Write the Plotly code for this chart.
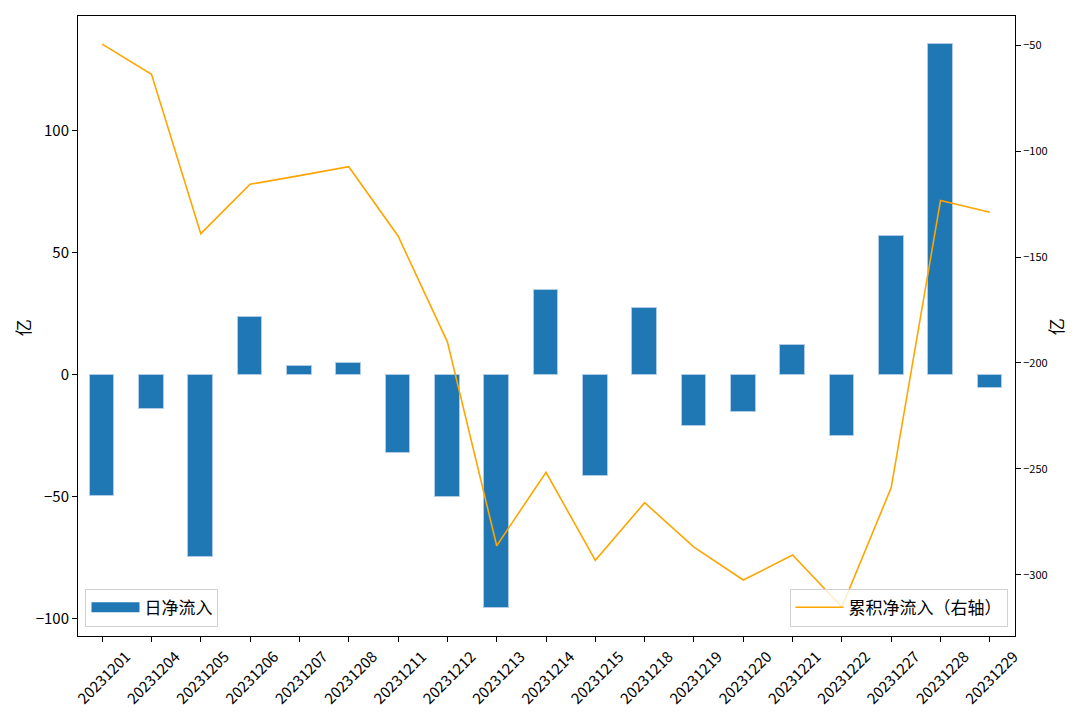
import plotly.graph_objects as go

dates = ["20231201", "20231204", "20231205", "20231206", "20231207", "20231208",
         "20231211", "20231212", "20231213", "20231214", "20231215", "20231218",
         "20231219", "20231220", "20231221", "20231222", "20231227", "20231228",
         "20231229"]
daily_flow = [-49.6, -13.9, -74.7, 23.6, 3.7, 4.8, -32.2, -50.1, -95.7, 34.8,
              -41.4, 27.5, -21.0, -15.4, 12.2, -25.0, 56.8, 135.4, -5.5]
cum_flow = [-49.6, -63.8, -139.0, -115.7, -111.6, -107.4, -140.1, -190.0, -286.2,
            -251.6, -293.1, -265.9, -286.9, -302.4, -290.6, -315.2, -258.8,
            -123.3, -128.9]

FONT = "Noto Sans CJK SC, DejaVu Sans, sans-serif"
BAR_COLOR = "#1f77b4"

fig = go.Figure()
fig.add_trace(go.Bar(
    x=dates, y=daily_flow, name="日净流入", width=0.5,
    marker=dict(color=BAR_COLOR, line=dict(color="rgba(180,205,230,0.9)", width=1)),
    showlegend=False,
))
# legend-only entry mimicking the rectangular bar patch
fig.add_trace(go.Scatter(
    x=[None], y=[None], name="日净流入", mode="lines",
    line=dict(color=BAR_COLOR, width=11), legend="legend",
))
fig.add_trace(go.Scatter(
    x=dates, y=cum_flow, name="累积净流入（右轴）", mode="lines",
    line=dict(color="#FFA500", width=1.6), yaxis="y2",
    legend="legend2",
))

# the page body has an 8px default margin; margins are chosen to compensate
fig.update_layout(
    width=1080, height=718,
    margin=dict(l=70, r=73, t=8, b=90),
    paper_bgcolor="white", plot_bgcolor="white",
    font=dict(family=FONT, color="black"),
    xaxis=dict(
        type="category", range=[-0.49, 18.51], automargin=False,
        showline=True, linecolor="black", linewidth=1, mirror=True,
        ticks="outside", ticklen=5, tickcolor="black",
        tickangle=-45, tickfont=dict(size=15, family=FONT),
        ticklabelshift=24,
        showgrid=False, zeroline=False,
    ),
    yaxis=dict(
        range=[-107, 147], tickvals=[-100, -50, 0, 50, 100], automargin=False,
        showline=True, linecolor="black", linewidth=1,
        ticks="outside", ticklen=5, tickcolor="black",
        tickfont=dict(size=15, family=FONT),
        showgrid=False, zeroline=False,
    ),
    yaxis2=dict(
        overlaying="y", side="right", automargin=False,
        range=[-328.8, -36.3], tickvals=[-300, -250, -200, -150, -100, -50],
        showline=True, linecolor="black", linewidth=1,
        ticks="outside", ticklen=5, tickcolor="black",
        tickfont=dict(size=11, family=FONT),
        showgrid=False, zeroline=False,
    ),
    bargap=0,
    legend=dict(
        x=0.008, y=0.015, xanchor="left", yanchor="bottom",
        bgcolor="rgba(255,255,255,0.8)", bordercolor="#d0d0d0", borderwidth=1,
        font=dict(size=17, family=FONT), itemwidth=48,
    ),
    legend2=dict(
        x=0.992, y=0.015, xanchor="right", yanchor="bottom",
        bgcolor="rgba(255,255,255,0.8)", bordercolor="#d0d0d0", borderwidth=1,
        font=dict(size=17, family=FONT), itemwidth=48,
    ),
    showlegend=True,
    annotations=[
        dict(text="亿", x=-0.0598, y=0.498, xref="paper", yref="paper",
             xanchor="center", yanchor="middle", textangle=-90, showarrow=False,
             font=dict(size=17, family=FONT)),
        dict(text="亿", x=1.0427, y=0.498, xref="paper", yref="paper",
             xanchor="center", yanchor="middle", textangle=-90, showarrow=False,
             font=dict(size=17, family=FONT)),
    ],
)

fig.write_html("out.html")
